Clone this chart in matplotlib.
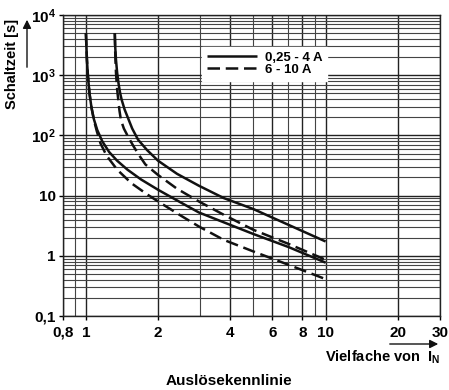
import matplotlib
matplotlib.use("Agg")
import matplotlib.pyplot as plt
from matplotlib.ticker import FixedLocator, NullFormatter

plt.rcParams['font.family'] = ['Liberation Sans', 'DejaVu Sans']
plt.rcParams['font.weight'] = 'bold'
plt.rcParams['mathtext.fontset'] = 'custom'
plt.rcParams['mathtext.bf'] = 'Liberation Sans:bold'
plt.rcParams['mathtext.rm'] = 'Liberation Sans:bold'

# --- data ---
solid_low_x = [1.0, 1.004, 1.01, 1.02, 1.035, 1.055, 1.08, 1.115, 1.17, 1.25, 1.35, 1.49, 1.7, 2.0, 2.5, 2.96, 3.76, 5.0, 7.0, 10.0]
solid_low_y = [5000, 3200, 1800, 950, 500, 290, 185, 123, 80, 53, 38, 27, 18.5, 12.5, 7.6, 5.25, 3.6, 2.3, 1.4, 0.77]

dash_low_x = [1.0, 1.004, 1.01, 1.02, 1.035, 1.055, 1.08, 1.11, 1.15, 1.22, 1.35, 1.55, 1.8, 2.0, 2.5, 2.96, 3.76, 5.0, 7.0, 10.0]
dash_low_y = [5000, 3200, 1800, 950, 500, 290, 180, 118, 74, 46, 27, 16, 10.5, 8.0, 4.6, 3.07, 1.84, 1.18, 0.71, 0.41]

solid_up_x = [1.32, 1.325, 1.335, 1.35, 1.37, 1.39, 1.41, 1.45, 1.51, 1.56, 1.65, 1.8, 2.0, 2.4, 2.96, 3.76, 5.0, 7.0, 10.0]
solid_up_y = [5000, 3000, 1800, 1100, 700, 500, 390, 270, 180, 130, 85, 57, 38, 23, 14.6, 9.1, 5.97, 3.27, 1.73]

dash_up_x = [1.32, 1.323, 1.328, 1.335, 1.345, 1.355, 1.365, 1.38, 1.40, 1.44, 1.5, 1.58, 1.66, 1.77, 2.0, 2.4, 2.96, 3.76, 5.0, 7.0, 10.0]
dash_up_y = [5000, 3000, 1800, 1100, 700, 500, 390, 260, 180, 130, 95, 66, 48, 33, 22, 13, 8.0, 4.8, 2.7, 1.58, 0.86]

legend_labels = ['0,25 - 4 A', '6 - 10 A']

x_ticks = [0.8, 1, 2, 4, 6, 8, 10, 20, 30]
x_tick_labels = ['0,8', '1', '2', '4', '6', '8', '10', '20', '30']
x_minor = [0.9, 3, 5, 7, 9]
y_ticks = [0.1, 1, 10, 100, 1000, 10000]
y_tick_labels = ['0,1', '1', '10', r'$\mathbf{10^2}$', r'$\mathbf{10^3}$', r'$\mathbf{10^4}$']
y_minor = [m * d for d in [0.1, 1, 10, 100, 1000] for m in range(2, 10)]

fig = plt.figure(figsize=(4.49, 3.90), dpi=100)
ax = fig.add_axes([0.1396, 0.1897, 0.8403, 0.7718])
ax.set_xscale('log')
ax.set_yscale('log')
ax.set_xlim(0.8, 30)
ax.set_ylim(0.1, 10000)

ax.xaxis.set_major_locator(FixedLocator(x_ticks))
ax.xaxis.set_minor_locator(FixedLocator(x_minor))
ax.set_xticklabels(x_tick_labels)
ax.xaxis.set_minor_formatter(NullFormatter())
ax.yaxis.set_major_locator(FixedLocator(y_ticks))
ax.yaxis.set_minor_locator(FixedLocator(y_minor))
ax.set_yticklabels(y_tick_labels)
ax.yaxis.set_minor_formatter(NullFormatter())

ax.tick_params(which='major', direction='out', length=3, width=1, labelsize=11, pad=2)
ax.tick_params(which='minor', length=0)
ax.tick_params(axis='x', which='major', pad=4)

ax.grid(True, which='major', color='#222222', linewidth=1.0)
ax.grid(True, which='minor', color='#444444', linewidth=0.8)
ax.set_axisbelow(True)
for s in ax.spines.values():
    s.set_linewidth(1.0)
    s.set_color('#222222')

lw = 1.8
l1, = ax.plot(solid_low_x, solid_low_y, color='#111111', lw=lw, solid_capstyle='butt')
ax.plot(solid_up_x, solid_up_y, color='#111111', lw=lw, solid_capstyle='butt')
l2, = ax.plot(dash_low_x, dash_low_y, color='#111111', lw=lw, dashes=(5, 2.3))
ax.plot(dash_up_x, dash_up_y, color='#111111', lw=lw, dashes=(5, 2.3))

leg = ax.legend([l1, l2], legend_labels, loc='upper left', bbox_to_anchor=(0.369, 0.894),
                borderaxespad=0, frameon=True, fancybox=False, framealpha=1, edgecolor='white',
                handlelength=3.8, handletextpad=0.6, borderpad=0.35, labelspacing=0.0,
                prop={'size': 9.5, 'weight': 'bold'})

# axis labels with arrows
fig.text(0.027, 0.835, 'Schaltzeit [s]', rotation=90, ha='center', va='center',
         fontsize=10.5, fontweight='bold')
fig.add_artist(matplotlib.patches.FancyArrowPatch((27 / 449, 1 - 70 / 390), (27 / 449, 1 - 17 / 390),
               transform=fig.transFigure, arrowstyle='-|>,head_length=5,head_width=2.5',
               color='#111111', lw=1.0, mutation_scale=1))
fig.text(440 / 449, 1 - 357 / 390, r'Vielfache von  I$_\mathbf{N}$', ha='right', va='center',
         fontsize=10.5, fontweight='bold')
fig.add_artist(matplotlib.patches.FancyArrowPatch((387 / 449, 1 - 344 / 390), (441 / 449, 1 - 344 / 390),
               transform=fig.transFigure, arrowstyle='-|>,head_length=5,head_width=2.5',
               color='#111111', lw=1.0, mutation_scale=1))
fig.text(229 / 449, 1 - 381 / 390, 'Auslösekennlinie', ha='center', va='center',
         fontsize=11, fontweight='bold')

fig.savefig('out.png', dpi=100)
